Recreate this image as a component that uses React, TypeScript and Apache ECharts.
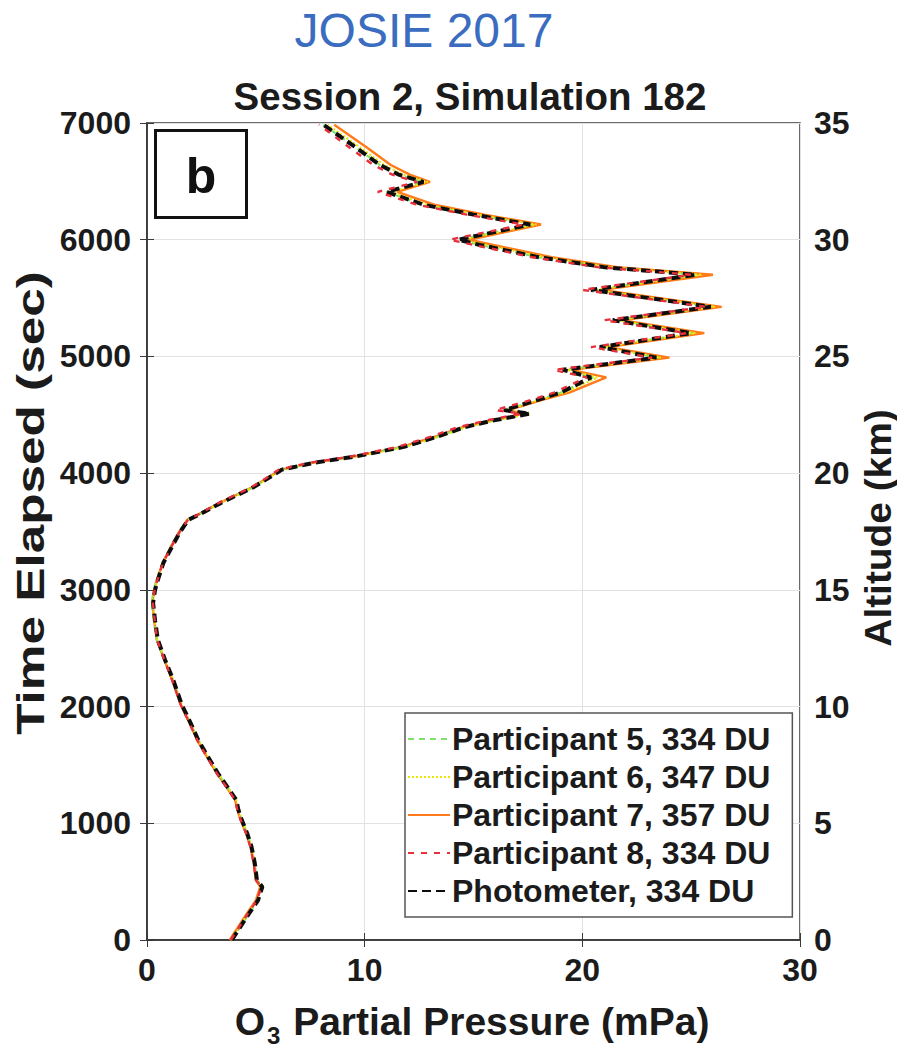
import React, { useEffect, useRef } from "react";
import * as echarts from "echarts";

// Elapsed time (s) shared by all profiles
const timeSec = [0, 230, 340, 455, 515, 660, 800, 915, 1030, 1115, 1200, 1310, 1430, 1570, 1715, 1860, 2015, 2230, 2400, 2570, 2740, 2890, 3000, 3085, 3230, 3370, 3490, 3600, 3640, 3745, 3880, 3960, 4030, 4090, 4140, 4225, 4310, 4395, 4455, 4510, 4540, 4630, 4690, 4820, 4885, 4990, 5080, 5200, 5310, 5425, 5570, 5700, 5765, 5850, 5955, 6000, 6130, 6215, 6300, 6410, 6495, 6555, 6640, 6790, 6985];

// O3 partial pressure (mPa)
const participant5 = [3.9, 4.7, 5.1, 5.3, 5.05, 4.95, 4.8, 4.6, 4.35, 4.2, 4.1, 3.7, 3.25, 2.8, 2.35, 2.0, 1.6, 1.2, 0.8, 0.45, 0.3, 0.22, 0.3, 0.45, 0.7, 1.1, 1.45, 1.85, 2.35, 3.4, 4.9, 5.6, 6.2, 7.7, 9.5, 11.8, 13.3, 14.6, 16.0, 17.5, 16.4, 18.0, 19.0, 20.5, 19.1, 23.5, 20.8, 25.1, 21.4, 26.0, 20.4, 25.3, 21.0, 18.0, 15.3, 14.3, 17.7, 15.0, 12.7, 11.0, 12.7, 11.6, 10.7, 9.6, 8.1];
const participant6 = [3.85, 4.65, 5.05, 5.25, 5.0, 4.95, 4.8, 4.6, 4.35, 4.2, 4.1, 3.7, 3.25, 2.8, 2.35, 2.0, 1.6, 1.2, 0.82, 0.48, 0.35, 0.26, 0.35, 0.48, 0.74, 1.13, 1.5, 1.9, 2.35, 3.4, 4.9, 5.6, 6.2, 7.7, 9.6, 11.9, 13.4, 14.7, 16.1, 17.6, 16.5, 18.1, 19.2, 20.7, 19.3, 23.6, 21.0, 25.2, 21.6, 26.1, 20.6, 25.5, 21.3, 18.3, 15.6, 14.5, 17.9, 15.2, 12.9, 11.2, 12.9, 11.8, 10.9, 9.8, 8.3];
const participant7 = [3.8, 4.6, 5.0, 5.2, 5.0, 4.9, 4.75, 4.55, 4.3, 4.15, 4.05, 3.65, 3.2, 2.75, 2.3, 1.95, 1.55, 1.15, 0.8, 0.45, 0.33, 0.25, 0.33, 0.45, 0.72, 1.1, 1.45, 1.85, 2.3, 3.35, 4.85, 5.55, 6.15, 7.65, 9.45, 11.7, 13.2, 14.5, 16.0, 17.3, 16.6, 18.2, 19.4, 21.1, 19.5, 24.0, 21.2, 25.6, 21.8, 26.4, 20.9, 26.0, 21.6, 18.6, 15.9, 14.8, 18.1, 15.5, 13.2, 11.5, 13.0, 12.1, 11.2, 10.1, 8.6];
const participant8 = [3.85, 4.65, 5.05, 5.25, 5.0, 4.9, 4.75, 4.55, 4.3, 4.15, 4.05, 3.65, 3.2, 2.75, 2.3, 1.95, 1.55, 1.15, 0.8, 0.47, 0.35, 0.27, 0.35, 0.48, 0.73, 1.12, 1.48, 1.88, 2.3, 3.3, 4.8, 5.5, 6.05, 7.5, 9.3, 11.5, 13.0, 14.3, 15.7, 17.2, 16.0, 17.7, 18.7, 20.2, 18.7, 23.2, 20.4, 24.8, 21.0, 25.7, 20.0, 25.0, 20.7, 17.7, 15.0, 13.9, 17.3, 14.7, 12.4, 10.6, 12.4, 11.3, 10.4, 9.3, 7.9];
const photometer = [3.9, 4.7, 5.1, 5.3, 5.05, 4.95, 4.8, 4.6, 4.35, 4.2, 4.1, 3.7, 3.25, 2.8, 2.35, 2.0, 1.6, 1.2, 0.83, 0.5, 0.37, 0.28, 0.37, 0.5, 0.75, 1.15, 1.5, 1.9, 2.35, 3.4, 4.9, 5.6, 6.2, 7.7, 9.5, 11.8, 13.3, 14.6, 16.0, 17.6, 16.4, 18.0, 19.0, 20.4, 19.1, 23.4, 20.8, 25.0, 21.4, 25.9, 20.4, 25.2, 21.0, 18.0, 15.3, 14.3, 17.6, 15.0, 12.7, 11.0, 12.7, 11.6, 10.7, 9.6, 8.1];

const seriesNames = ["Participant 5, 334 DU", "Participant 6, 347 DU", "Participant 7, 357 DU", "Participant 8, 334 DU", "Photometer, 334 DU"];

const xTicks = { min: 0, max: 30, interval: 10 };
const timeTicks = { min: 0, max: 7000, interval: 1000 };
const altTicks = { min: 0, max: 35, interval: 5 };

const FONT = '"Liberation Sans", Arial, Helvetica, sans-serif';
const AX = "#3a3a3a";
const TXT = "#1b1b1b";

export default function App() {
  const ref = useRef<HTMLDivElement>(null);
  useEffect(() => {
    document.body.style.margin = "0";
    const chart = echarts.init(ref.current!, null, { renderer: "svg" });
    const pairs = (xs: number[]) => xs.map((x, i) => [x, timeSec[i]]);
    const tickLabel = { fontFamily: FONT, fontWeight: "bold", fontSize: 32, color: TXT, formatter: (v: number) => String(v) };
    const lineSeries = (name: string, data: number[], color: string, width: number, type: any, z: number) => ({
      name,
      type: "line",
      data: pairs(data),
      showSymbol: false,
      symbol: "none",
      z,
      lineStyle: { color, width, type },
      itemStyle: { color },
    });
    chart.setOption({
      animation: false,
      backgroundColor: "#ffffff",
      grid: { left: 147, top: 123, right: 97, bottom: 113, show: true, borderColor: AX, borderWidth: 1.5, backgroundColor: "transparent" },
      xAxis: [
        {
          type: "value", ...xTicks, position: "bottom",
          axisLine: { show: true, lineStyle: { color: AX, width: 1.5 } },
          axisTick: { show: true, inside: true, length: 7, lineStyle: { color: AX } },
          axisLabel: { ...tickLabel, margin: 14 },
          splitLine: { show: true, lineStyle: { color: "#e2e2e2", width: 1 } },
        },
        {
          type: "value", ...xTicks, position: "top",
          axisLine: { show: true, lineStyle: { color: AX, width: 1.5 } },
          axisTick: { show: true, inside: true, length: 7, lineStyle: { color: AX } },
          axisLabel: { show: false },
          splitLine: { show: false },
        },
      ],
      yAxis: [
        {
          type: "value", ...timeTicks, position: "left",
          axisLine: { show: true, lineStyle: { color: AX, width: 1.5 } },
          axisTick: { show: true, inside: true, length: 7, lineStyle: { color: AX } },
          axisLabel: { ...tickLabel, margin: 16 },
          splitLine: { show: true, lineStyle: { color: "#e2e2e2", width: 1 } },
        },
        {
          type: "value", ...altTicks, position: "right",
          axisLine: { show: true, lineStyle: { color: AX, width: 1.5 } },
          axisTick: { show: true, inside: true, length: 7, lineStyle: { color: AX } },
          axisLabel: { ...tickLabel, margin: 14 },
          splitLine: { show: false },
        },
      ],
      legend: {
        data: seriesNames,
        orient: "vertical",
        left: 405,
        top: 713,
        itemWidth: 42,
        itemHeight: 14,
        itemGap: 6,
        padding: [10, 22, 10, 2],
        borderColor: "#555",
        borderWidth: 1.5,
        borderRadius: 0,
        backgroundColor: "#ffffff",
        itemStyle: { opacity: 0 },
        textStyle: { fontFamily: FONT, fontWeight: "bold", fontSize: 32, color: TXT, padding: [0, 0, 0, -3] },
      },
      graphic: [
        { type: "text", x: 424, y: 30, style: { text: "JOSIE 2017", fontFamily: FONT, fontSize: 48, fill: "#3a6cc0", textAlign: "center", textVerticalAlign: "middle" } },
        { type: "text", x: 470, y: 96, style: { text: "Session 2, Simulation 182", fontFamily: FONT, fontWeight: "bold", fontSize: 38.5, fill: TXT, textAlign: "center", textVerticalAlign: "middle" } },
        { type: "rect", shape: { x: 155.5, y: 130.5, width: 91, height: 87 }, style: { fill: "#fff", stroke: "#111", lineWidth: 3 }, z: 100 },
        { type: "text", x: 201, y: 176, z: 101, style: { text: "b", fontFamily: FONT, fontWeight: "bold", fontSize: 50, fill: "#111", textAlign: "center", textVerticalAlign: "middle" } },
        { type: "text", x: 31, y: 503, rotation: Math.PI / 2, scaleX: 1.35, style: { text: "Time Elapsed (sec)", fontFamily: FONT, fontWeight: "bold", fontSize: 38, fill: TXT, textAlign: "center", textVerticalAlign: "middle" } },
        { type: "text", x: 878, y: 528, rotation: Math.PI / 2, scaleX: 1.05, style: { text: "Altitude (km)", fontFamily: FONT, fontWeight: "bold", fontSize: 37, fill: TXT, textAlign: "center", textVerticalAlign: "middle" } },
        {
          type: "text", x: 472, y: 1021,
          style: {
            text: "{m|O}{s|3}{m| Partial Pressure (mPa)}",
            textAlign: "center", textVerticalAlign: "middle",
            rich: {
              m: { fontFamily: FONT, fontWeight: "bold", fontSize: 39, fill: TXT, color: TXT },
              s: { fontFamily: FONT, fontWeight: "bold", fontSize: 24, fill: TXT, color: TXT, padding: [28, 2, 0, 2] },
            },
          },
        },
      ],
      series: [
        lineSeries(seriesNames[2], participant7, "#ff7a1a", 2.4, "solid", 2),
        lineSeries(seriesNames[0], participant5, "#7ee06a", 2, [6, 5], 3),
        lineSeries(seriesNames[1], participant6, "#e6e600", 2, [2, 2], 4),
        lineSeries(seriesNames[4], photometer, "#0d0d0d", 4, [9, 5], 5),
        lineSeries(seriesNames[3], participant8, "#e8303c", 2.4, [6, 7], 6),
      ],
    });
    return () => chart.dispose();
  }, []);
  return <div ref={ref} style={{ width: 897, height: 1053 }} />;
}
